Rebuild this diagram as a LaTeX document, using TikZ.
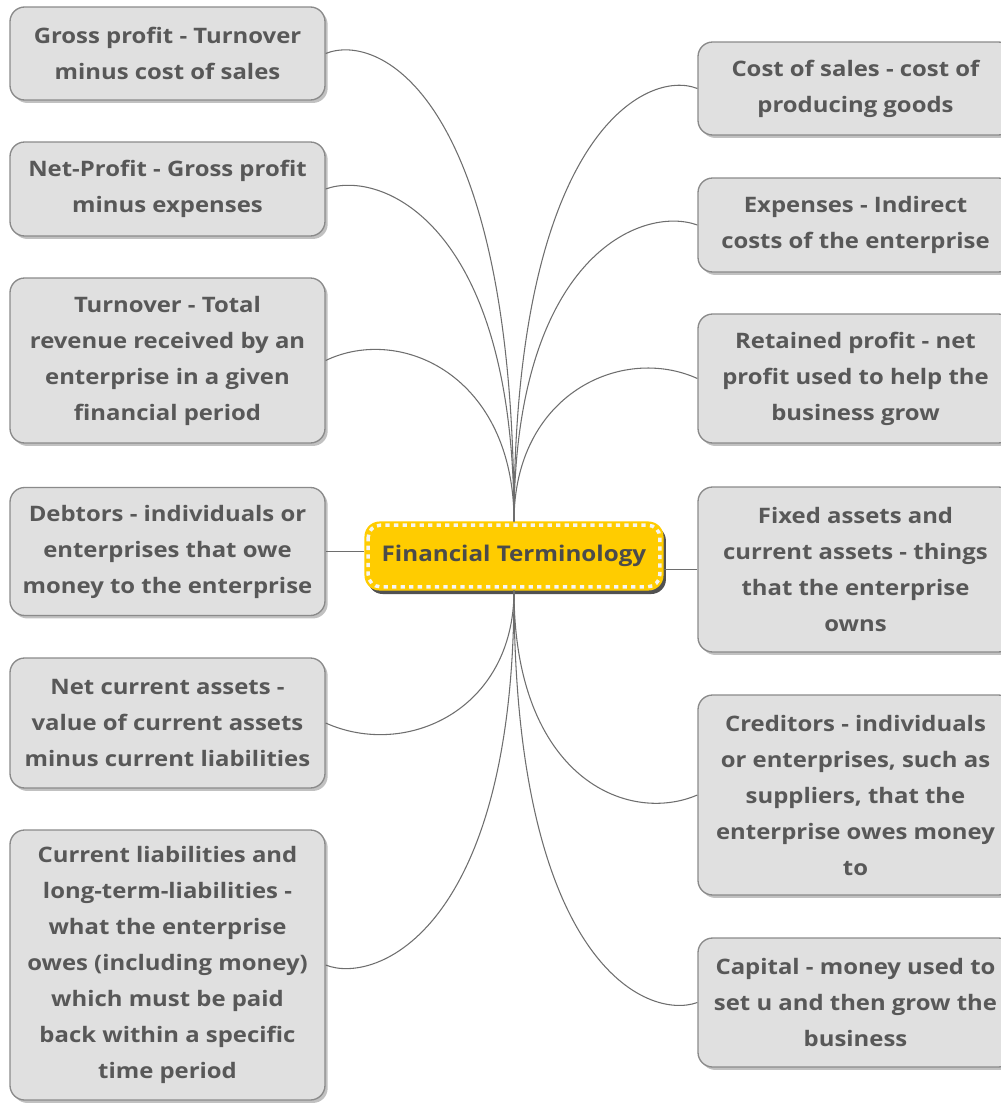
\documentclass[tikz,border=0pt]{standalone}
\usepackage{fontspec}
\setmainfont{Open Sans}[FakeStretch=1.12]
\usetikzlibrary{shadows}
\definecolor{boxfill}{HTML}{E0E0E0}
\definecolor{boxline}{HTML}{8A8A8A}
\definecolor{txt}{HTML}{585858}
\definecolor{gold}{HTML}{FFCC00}
\definecolor{conn}{HTML}{6E6E6E}
\begin{document}
\begin{tikzpicture}[x=0.75pt,y=-0.75pt,
  term/.style={draw=boxline, line width=1pt, fill=boxfill, rounded corners=11pt,
    minimum width=236.25pt, inner sep=0pt, align=center, text=txt,
    font=\bfseries\fontsize{16}{27}\selectfont,
    drop shadow={shadow xshift=2pt, shadow yshift=-2.2pt, opacity=0.35, fill=black!70}},
  link/.style={draw=conn, line width=0.8pt}]
\useasboundingbox (0,0) rectangle (1000,1103);

% central node
\node[fill=gold, draw=gold, line width=0.8pt, rounded corners=11pt, minimum width=223.5pt,
  minimum height=51pt, inner sep=0pt, text=txt!85!black,
  font=\bfseries\fontsize{16.2}{20}\selectfont,
  drop shadow={shadow xshift=2.2pt, shadow yshift=-3pt, opacity=0.8, fill=black!85}] (c) at (514,556) {Financial Terminology};
\draw[white!92!gray, line width=2.6pt, dash pattern=on 3.2pt off 3.2pt, rounded corners=9pt]
  ([shift={(2.8pt,-2.8pt)}]c.north west) rectangle ([shift={(-2.8pt,2.8pt)}]c.south east);

% left boxes
\node[term, minimum height=69.75pt] (l1) at (167.5,53.5) {Gross profit - Turnover\\minus cost of sales};
\node[term, minimum height=70.5pt] (l2) at (167.5,189) {Net-Profit - Gross profit\\minus expenses};
\node[term, minimum height=123.75pt] (l3) at (167.5,360.5) {Turnover - Total\\revenue received by an\\enterprise in a given\\financial period};
\node[term, minimum height=96pt] (l4) at (167.5,551.5) {Debtors - individuals or\\enterprises that owe\\money to the enterprise};
\node[term, minimum height=97.5pt] (l5) at (167.5,723) {Net current assets -\\value of current assets\\minus current liabilities};
\node[term, minimum height=202.5pt] (l6) at (167.5,965) {Current liabilities and\\long-term-liabilities -\\what the enterprise\\owes (including money)\\which must be paid\\back within a specific\\time period};

% right boxes
\node[term, minimum height=69.75pt] (r1) at (855.5,88.5) {Cost of sales - cost of\\producing goods};
\node[term, minimum height=70.5pt] (r2) at (855.5,225) {Expenses - Indirect\\costs of the enterprise};
\node[term, minimum height=96.75pt] (r3) at (855.5,378.5) {Retained profit - net\\profit used to help the\\business grow};
\node[term, minimum height=123.75pt] (r4) at (855.5,569.5) {Fixed assets and\\current assets - things\\that the enterprise\\owns};
\node[term, minimum height=150pt] (r5) at (855.5,795) {Creditors - individuals\\or enterprises, such as\\suppliers, that the\\enterprise owes money\\to};
\node[term, minimum height=96.75pt] (r6) at (855.5,1002.5) {Capital - money used to\\set u and then grow the\\business};

% connectors
\draw[link] (c.north) .. controls +(0,-422) and +(55,-22) .. (l1.east);
\draw[link] (c.north) .. controls +(0,-299) and +(55,-20) .. (l2.east);
\draw[link] (c.north) .. controls +(0,-146) and +(75,-36) .. (l3.east);
\draw[link] (l4.east) -- (l4.east -| c.west);
\draw[link] (c.south) .. controls +(0,120) and +(80,36) .. (l5.east);
\draw[link] (c.south) .. controls +(0,340) and +(50,20) .. (l6.east);

\draw[link] (c.north) .. controls +(0,-389) and +(-50,-20) .. (r1.west);
\draw[link] (c.north) .. controls +(0,-266) and +(-55,-20) .. (r2.west);
\draw[link] (c.north) .. controls +(0,-128) and +(-75,-34) .. (r3.west);
\draw[link] (r4.west) -- (r4.west -| c.east);
\draw[link] (c.south) .. controls +(0,187) and +(-70,30) .. (r5.west);
\draw[link] (c.south) .. controls +(0,374) and +(-50,18) .. (r6.west);
\end{tikzpicture}
\end{document}
